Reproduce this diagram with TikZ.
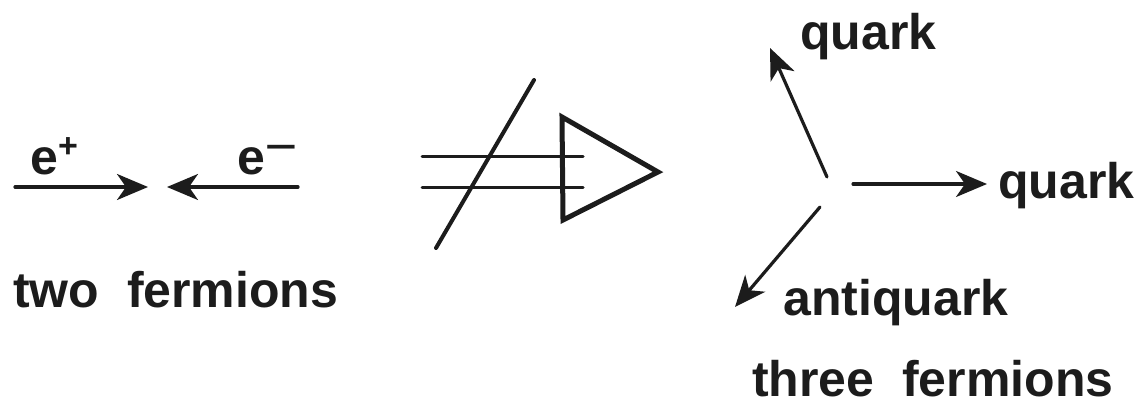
\documentclass[tikz,border=0pt]{standalone}
\usepackage{fontspec}
\setmainfont{Liberation Sans}
\usetikzlibrary{arrows.meta}
\definecolor{ink}{HTML}{1C1C1C}

\begin{document}
\begin{tikzpicture}[
  x=1pt,y=-1pt,line cap=round,line join=round,
  txt/.style={font=\bfseries\fontsize{50}{60}\selectfont,text=ink,inner sep=0pt,anchor=base west},
  particle/.style={ink,line width=3.2pt,-{Stealth[length=31pt,width=26pt,inset=9pt]}},
  slash/.style={ink,line width=4pt},
  rail/.style={ink,line width=3pt},
  wedge/.style={ink,line width=5pt,line join=miter}
]
  \fill[white] (0,0) rectangle (1139,406);
  \useasboundingbox (0,0) rectangle (1139,406);

  % Incoming pair on the left.
  \node[txt] (ep) at (30,175) {e\raisebox{17pt}{\fontsize{34}{34}\selectfont +}};
  \node[txt] (em) at (237,175) {e\raisebox{16pt}{\fontsize{34}{34}\selectfont\scalebox{1.6}[1]{−}}};
  \coordinate (epTail) at (15,187);
  \coordinate (epTip) at (148,187);
  \coordinate (emTail) at (298,187);
  \coordinate (emTip) at (167,187);
  \draw[particle] (epTail) -- (epTip);
  \draw[particle] (emTail) -- (emTip);
  \node[txt] (two) at (13,307) {two\ \ fermions};

  % Crossed-out arrow in the middle.
  \draw[slash] (534,80) -- (436,248);
  \foreach \y in {157,187} {
    \draw[rail] (422,\y) -- (583,\y);
  }
  \draw[wedge] (562,117) -- (658,172) -- (563,220) -- cycle;

  % Three outgoing fermions on the right.
  \coordinate (qaTail) at (827,177);
  \coordinate (qaTip) at (770,48);
  \coordinate (qbTail) at (853,184);
  \coordinate (qbTip) at (987,184);
  \coordinate (aqTail) at (820,207);
  \coordinate (aqTip) at (735,307);
  \draw[particle] (qaTail) -- (qaTip);
  \draw[particle] (qbTail) -- (qbTip);
  \draw[particle] (aqTail) -- (aqTip);

  % Labels.
  \node[txt] (qa) at (800,50) {quark};
  \node[txt] (qb) at (998,198) {quark};
  \node[txt] (aq) at (783,315) {antiquark};
  \node[txt] (three) at (752,396) {three\ \ fermions};
\end{tikzpicture}
\end{document}
